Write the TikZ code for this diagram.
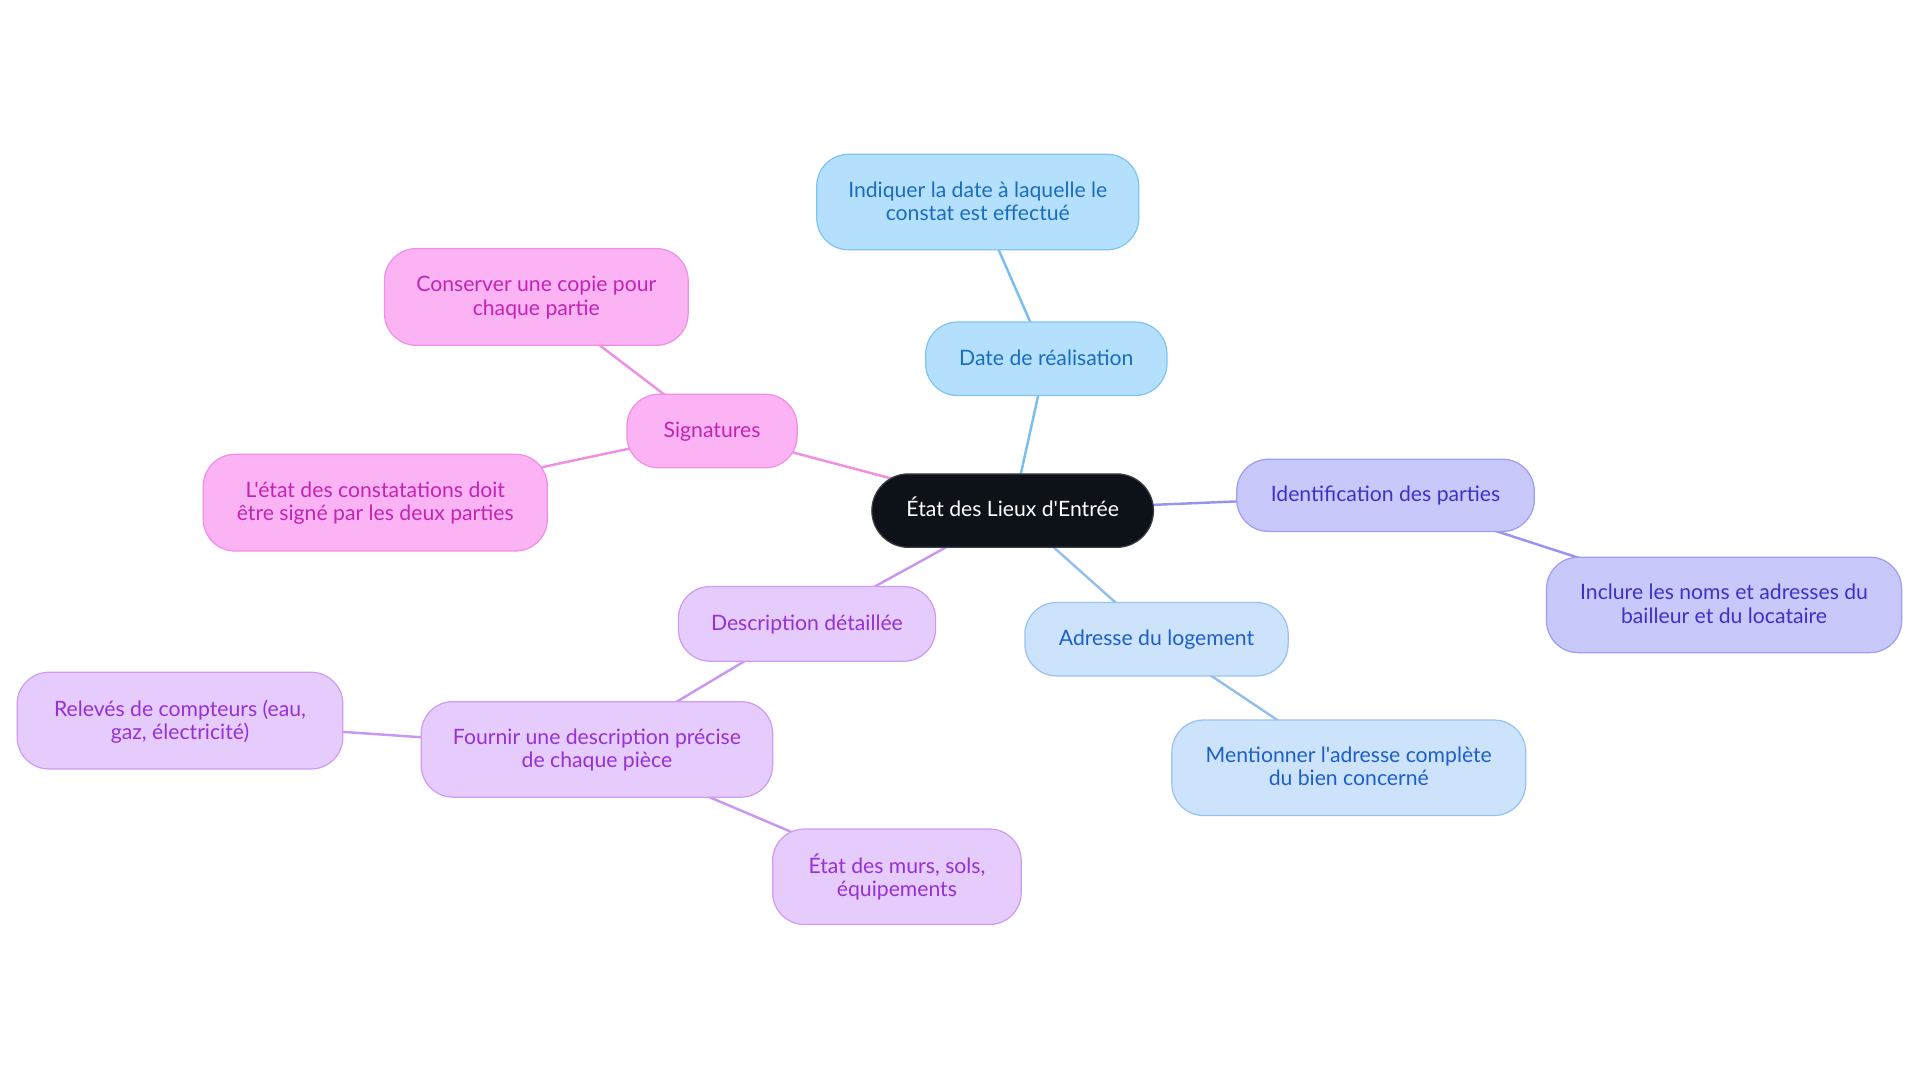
\documentclass[tikz,border=0pt]{standalone}
\usepackage{fontspec}
\setmainfont{Lato}[Ligatures=TeXOff]
\usetikzlibrary{backgrounds}
\definecolor{cblack}{HTML}{0D1118}
\definecolor{cblackb}{HTML}{3A3F47}
% sky group (date)
\definecolor{skyfill}{HTML}{B4E0FD}
\definecolor{skydraw}{HTML}{7EC4F4}
\definecolor{skytext}{HTML}{1A6DBE}
\definecolor{skyedge}{HTML}{78BEF0}
% indigo group (identification)
\definecolor{indfill}{HTML}{C8C8FB}
\definecolor{inddraw}{HTML}{9E9DF2}
\definecolor{indtext}{HTML}{3B33C8}
\definecolor{indedge}{HTML}{9694F0}
% blue group (adresse)
\definecolor{blufill}{HTML}{CDE3FB}
\definecolor{bludraw}{HTML}{98C3F2}
\definecolor{blutext}{HTML}{1D5FC8}
\definecolor{bluedge}{HTML}{93BEF0}
% purple group (description)
\definecolor{purfill}{HTML}{E6CBFD}
\definecolor{purdraw}{HTML}{CE9CF3}
\definecolor{purtext}{HTML}{9531D6}
\definecolor{puredge}{HTML}{C996F2}
% pink group (signatures)
\definecolor{pinfill}{HTML}{FBB3F4}
\definecolor{pindraw}{HTML}{F08FE6}
\definecolor{pintext}{HTML}{C324B4}
\definecolor{pinedge}{HTML}{EF8FE2}
\tikzset{
  box/.style={rectangle, rounded corners=26pt, line width=1pt, inner sep=0pt,
    align=center, text depth=2pt, font=\fontsize{17.3}{18.9}\selectfont},
  rootbox/.style={box, rounded corners=30pt, fill=cblack, draw=cblackb, text=white, text depth=6pt},
  skybox/.style={box, fill=skyfill, draw=skydraw, text=skytext},
  indbox/.style={box, fill=indfill, draw=inddraw, text=indtext},
  blubox/.style={box, fill=blufill, draw=bludraw, text=blutext},
  purbox/.style={box, fill=purfill, draw=purdraw, text=purtext},
  pinbox/.style={box, fill=pinfill, draw=pindraw, text=pintext},
  link/.style={line width=2pt},
}
\begin{document}
\begin{tikzpicture}[x=1pt,y=-1pt]
\useasboundingbox (0,0) rectangle (1568,884.4);
\node[rootbox, minimum width=230pt, minimum height=60pt] (root) at (827,417) {État des Lieux d'Entrée};

\node[skybox, minimum width=197pt, minimum height=60pt] (date) at (854.5,293) {Date de réalisation};
\node[skybox, minimum width=263pt, minimum height=78pt] (indiq) at (798.5,165) {Indiquer la date à laquelle le\\constat est effectué};

\node[indbox, minimum width=243pt, minimum height=59pt] (ident) at (1131.5,404.5) {Identification des parties};
\node[indbox, minimum width=290pt, minimum height=78pt] (incl) at (1408,494) {Inclure les noms et adresses du\\bailleur et du locataire};

\node[blubox, minimum width=215pt, minimum height=60pt] (adr) at (944.5,522) {Adresse du logement};
\node[blubox, minimum width=289pt, minimum height=78pt] (ment) at (1101.5,627) {Mentionner l'adresse complète\\du bien concerné};

\node[purbox, minimum width=210pt, minimum height=61pt] (desc) at (659,509.5) {Description détaillée};
\node[purbox, minimum width=287pt, minimum height=78pt] (fourn) at (487.5,612) {Fournir une description précise\\de chaque pièce};
\node[purbox, minimum width=266pt, minimum height=79pt] (relev) at (147,588.5) {Relevés de compteurs (eau,\\gaz, électricité)};
\node[purbox, minimum width=203pt, minimum height=78pt] (murs) at (732.5,716) {État des murs, sols,\\équipements};

\node[pinbox, minimum width=139pt, minimum height=60pt] (sig) at (581.5,352) {Signatures};
\node[pinbox, minimum width=248pt, minimum height=79pt] (cons) at (438,242.5) {Conserver une copie pour\\chaque partie};
\node[pinbox, minimum width=281pt, minimum height=79pt] (letat) at (306.5,410.5) {L'état des constatations doit\\être signé par les deux parties};

\begin{scope}[on background layer]
\draw[link, skyedge] (root.center) -- (date.center);
\draw[link, skyedge] (date.center) -- (indiq.center);
\draw[link, indedge] (root.center) -- (ident.center);
\draw[link, indedge] (ident.center) -- (incl.center);
\draw[link, bluedge] (root.center) -- (adr.center);
\draw[link, bluedge] (adr.center) -- (ment.center);
\draw[link, puredge] (root.center) -- (desc.center);
\draw[link, puredge] (desc.center) -- (fourn.center);
\draw[link, puredge] (fourn.center) -- (relev.center);
\draw[link, puredge] (fourn.center) -- (murs.center);
\draw[link, pinedge] (root.center) -- (sig.center);
\draw[link, pinedge] (sig.center) -- (cons.center);
\draw[link, pinedge] (sig.center) -- (letat.center);
\end{scope}
\end{tikzpicture}
\end{document}
